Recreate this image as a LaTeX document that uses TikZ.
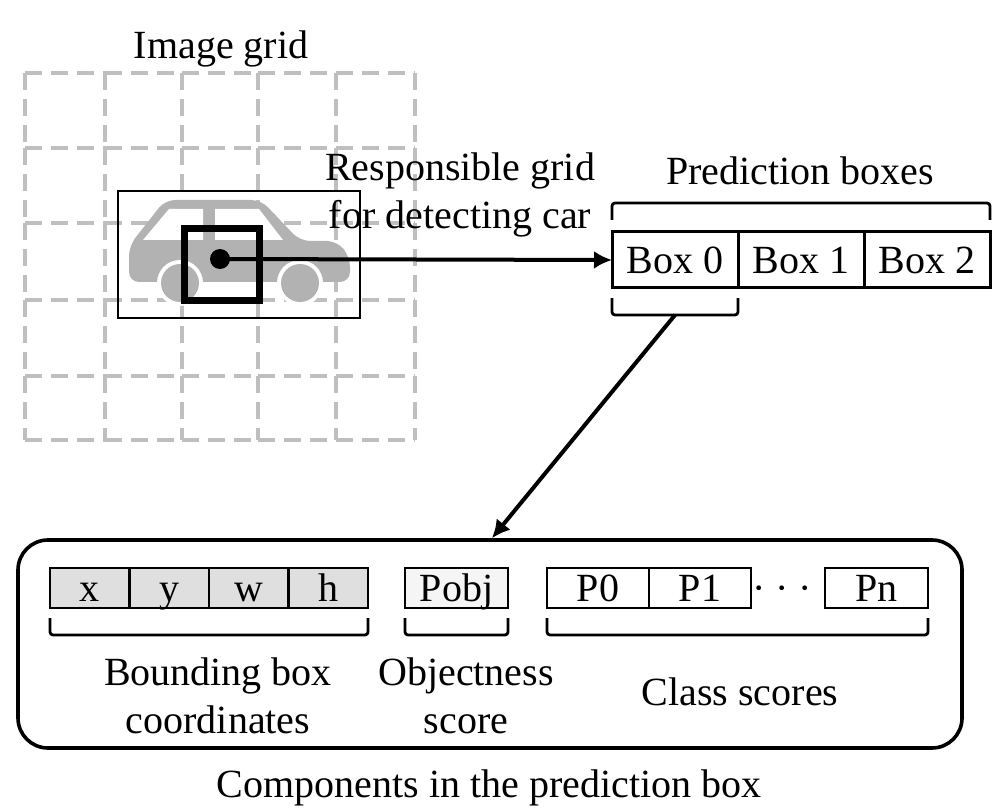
\documentclass[tikz,border=0pt]{standalone}
\usepackage{fontspec}
\setmainfont{Liberation Serif}
\usetikzlibrary{positioning,arrows.meta}
\definecolor{carbody}{gray}{0.70}
\tikzset{
	gridline/.style={draw=gray!50, line width=2pt, dash pattern=on 8.5pt off 4.5pt},
	cell/.style={draw, line width=1.3pt, inner sep=0pt, outer sep=0pt, minimum height=20pt, text height=13pt, text depth=0pt},
	predbox/.style={cell, line width=1.5pt, minimum width=63pt, minimum height=28pt},
	brace/.style={line width=1.4pt, rounded corners=1.5pt},
	link/.style={line width=2pt, -{Latex[length=9pt,width=9pt]}},
}

\begin{document}
\begin{tikzpicture}[x=0.5pt,y=-0.5pt,font=\fontsize{20}{24}\selectfont]
	\useasboundingbox (0,0) rectangle (999,807);
	\foreach \xa/\xb in {25/105,105/182,182/258,258/336,336/415}
		\foreach \y in {73,148,223,300,376,440}
			\draw[gridline] (\xa,\y) -- (\xb,\y);
	\foreach \ya/\yb in {73/148,148/223,223/300,300/376,376/440}
		\foreach \x in {25,105,182,258,336,415}
			\draw[gridline] (\x,\ya) -- (\x,\yb);
	\node[anchor=base] (title) at (221,59) {Image grid};
	
	\draw[line width=1pt] (118,191) rectangle (360,318);
	\fill[carbody, rounded corners=5pt] (129,282) -- (129,246) -- (165,200) -- (261,200) -- (300,241) -- (337,241) -- (350,257) -- (350,282) -- cycle;
	\fill[white] (143,240) -- (169,209) -- (203,209) -- (203,240) -- cycle;
	\fill[white] (215,209) -- (259,209) -- (283,240) -- (215,240) -- cycle;
	\foreach \cx in {180,300} {
		\fill[white] (\cx,283) circle[radius=11.5pt];
		\fill[carbody] (\cx,283) circle[radius=9.5pt];
	}
	\draw[line width=3.5pt] (184,229) rectangle (259,300);
	\node[circle, fill, inner sep=0pt, minimum size=10pt] (dot) at (220,259) {};
	\node[align=center] (resp) at (460,194.5) {Responsible grid\\for detecting car};
	
	\node[predbox] (box0) at (675,260) {Box 0};
	\node[predbox, right=0pt of box0] (box1) {Box 1};
	\node[predbox, right=0pt of box1] (box2) {Box 2};
	\node[anchor=base] (predlabel) at (800,185) {Prediction boxes};
	\draw[brace] ([yshift=6pt]box0.north west) -- ([yshift=14.5pt]box0.north west) -- ([yshift=14.5pt]box2.north east) -- ([yshift=6pt]box2.north east);
	\draw[brace] ([yshift=-5pt]box0.south west) -- ([yshift=-13.5pt]box0.south west) -- ([yshift=-13.5pt]box0.south east) -- ([yshift=-5pt]box0.south east);
	\draw[link] (dot.center) -- (box0.west);
	
	\node[draw, line width=1.8pt, rounded corners=15pt, minimum width=472pt, minimum height=104pt] (frame) at (490,644) {};
	\coordinate (pick) at ([yshift=-13.5pt]box0.south);
	\draw[link] (pick) -- ([xshift=1pt]frame.north);
	
	\node[cell, fill=gray!25, minimum width=39.75pt] (cx) at (89.75,588) {x};
	\node[cell, fill=gray!25, minimum width=39.75pt, right=0pt of cx] (cy) {y};
	\node[cell, fill=gray!25, minimum width=39.75pt, right=0pt of cy] (cw) {w};
	\node[cell, fill=gray!25, minimum width=39.75pt, right=0pt of cw] (ch) {h};
	\node[cell, fill=gray!8, minimum width=51.5pt] (pobj) at (456.5,588) {Pobj};
	\node[cell, minimum width=51pt] (p0) at (598,588) {P0};
	\node[cell, minimum width=51pt, right=0pt of p0] (p1) {P1};
	\node[anchor=base] (dots) at (782,601) {· · ·};
	\node[cell, minimum width=51.5pt] (pn) at (876.5,588) {Pn};
	
	\draw[brace] ([yshift=-5pt]cx.south west) -- ([yshift=-13.5pt]cx.south west) -- ([yshift=-13.5pt]ch.south east) -- ([yshift=-5pt]ch.south east);
	\draw[brace] ([yshift=-5pt]pobj.south west) -- ([yshift=-13.5pt]pobj.south west) -- ([yshift=-13.5pt]pobj.south east) -- ([yshift=-5pt]pobj.south east);
	\draw[brace] ([yshift=-5pt]p0.south west) -- ([yshift=-13.5pt]p0.south west) -- ([yshift=-13.5pt]pn.south east) -- ([yshift=-5pt]pn.south east);
	
	\node[align=center] (bblabel) at (218,695.5) {Bounding box\\coordinates};
	\node[align=center] (objlabel) at (466,695.5) {Objectness\\score};
	\node[anchor=base] (clslabel) at (740,705) {Class scores};
	\node[anchor=base] (caption) at (489,797) {Components in the prediction box};
\end{tikzpicture}
\end{document}
